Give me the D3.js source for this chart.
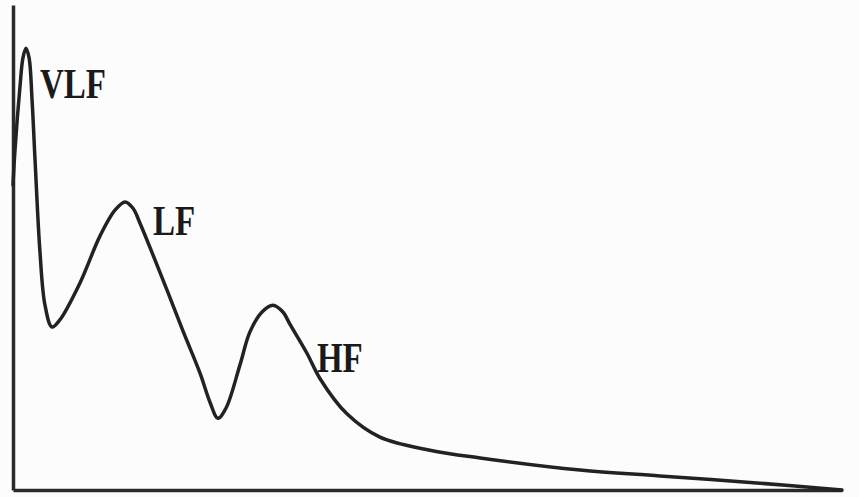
<!DOCTYPE html>
<html>
<head>
<meta charset="utf-8">
<script src="https://cdn.jsdelivr.net/npm/d3@7"></script>
<style>
  html, body { margin: 0; padding: 0; background: #fcfcfc; }
  svg { display: block; }
</style>
</head>
<body>
<svg id="chart" width="859" height="497"></svg>
<script>
// Frequency (Hz) and spectral power (normalised)
const freq = [0.000, 0.0012, 0.0042, 0.0060, 0.0078, 0.0097, 0.0115, 0.0133, 0.0163, 0.0193,
  0.0235, 0.0283, 0.0404, 0.0525, 0.0615, 0.0676, 0.0724, 0.0766, 0.0929, 0.1025,
  0.1128, 0.1188, 0.1236, 0.1285, 0.1369, 0.1429, 0.1502, 0.1568, 0.1628, 0.1670,
  0.1773, 0.1851, 0.2014, 0.2213, 0.2515, 0.2817, 0.3420, 0.3902, 0.4505, 0.5000];
const power = [0.629, 0.701, 0.831, 0.891, 0.911, 0.891, 0.804, 0.680, 0.489, 0.381,
  0.336, 0.351, 0.427, 0.524, 0.577, 0.594, 0.581, 0.550, 0.412, 0.328,
  0.241, 0.181, 0.148, 0.169, 0.258, 0.326, 0.367, 0.381, 0.367, 0.342,
  0.282, 0.230, 0.157, 0.109, 0.082, 0.066, 0.041, 0.029, 0.014, 0.000];

// Band labels and their anchor positions (freq, power)
const bandNames = ["VLF", "LF", "HF"];
const bandFreq = [0.0163, 0.0844, 0.1833];
const bandPower = [0.808, 0.526, 0.243];

const svg = d3.select("#chart");
const x = d3.scaleLinear().domain([0, 0.5]).range([13, 842]);
const y = d3.scaleLinear().domain([0, 1]).range([490, 5]);

// axes (no ticks)
svg.append("g")
  .attr("transform", `translate(0,${y(0)})`)
  .call(d3.axisBottom(x).ticks(0).tickSize(0))
  .call(g => g.select(".domain").attr("stroke", "#2a2a2a").attr("stroke-width", 3.5));
svg.append("g")
  .attr("transform", `translate(${x(0)},0)`)
  .call(d3.axisLeft(y).ticks(0).tickSize(0))
  .call(g => g.select(".domain").attr("stroke", "#2a2a2a").attr("stroke-width", 3.5));

const pts = freq.map((f, i) => [f, power[i]]);
const line = d3.line()
  .x(d => x(d[0]))
  .y(d => y(d[1]))
  .curve(d3.curveCatmullRom.alpha(0.5));

svg.append("path")
  .datum(pts)
  .attr("d", line)
  .attr("fill", "none")
  .attr("stroke", "#222")
  .attr("stroke-width", 3.5)
  .attr("stroke-linejoin", "round")
  .attr("stroke-linecap", "round");

svg.selectAll("text.band")
  .data(bandNames)
  .enter().append("text")
  .attr("class", "band")
  .attr("transform", (d, i) => `translate(${x(bandFreq[i])},${y(bandPower[i])}) scale(1,1.25)`)
  .attr("font-family", "'Liberation Serif', 'Times New Roman', serif")
  .attr("font-weight", "bold")
  .attr("font-size", 33)
  .attr("fill", "#1a1a1a")
  .text(d => d);
</script>
</body>
</html>
